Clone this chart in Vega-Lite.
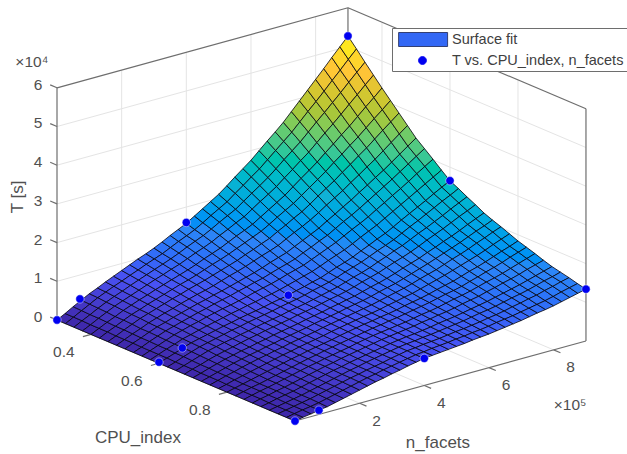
{"$schema":"https://vega.github.io/schema/vega-lite/v6.json","width":627,"height":454,"padding":0,"autosize":"none","background":"white","config":{"view":{"stroke":null},"font":"Liberation Sans"},
"datasets":{
"grid":[{"c":0.3,"n":2,"T":0,"c2":0.3,"n2":2,"T2":6},{"c":0.3,"n":4,"T":0,"c2":0.3,"n2":4,"T2":6},{"c":0.3,"n":6,"T":0,"c2":0.3,"n2":6,"T2":6},{"c":0.3,"n":8,"T":0,"c2":0.3,"n2":8,"T2":6},{"c":0.3,"n":0,"T":1,"c2":0.3,"n2":9,"T2":1},{"c":0.3,"n":0,"T":2,"c2":0.3,"n2":9,"T2":2},{"c":0.3,"n":0,"T":3,"c2":0.3,"n2":9,"T2":3},{"c":0.3,"n":0,"T":4,"c2":0.3,"n2":9,"T2":4},{"c":0.3,"n":0,"T":5,"c2":0.3,"n2":9,"T2":5},{"c":0.4,"n":9,"T":0,"c2":0.4,"n2":9,"T2":6},{"c":0.6,"n":9,"T":0,"c2":0.6,"n2":9,"T2":6},{"c":0.8,"n":9,"T":0,"c2":0.8,"n2":9,"T2":6},{"c":0.3,"n":9,"T":1,"c2":1,"n2":9,"T2":1},{"c":0.3,"n":9,"T":2,"c2":1,"n2":9,"T2":2},{"c":0.3,"n":9,"T":3,"c2":1,"n2":9,"T2":3},{"c":0.3,"n":9,"T":4,"c2":1,"n2":9,"T2":4},{"c":0.3,"n":9,"T":5,"c2":1,"n2":9,"T2":5},{"c":0.3,"n":2,"T":0,"c2":1,"n2":2,"T2":0},{"c":0.3,"n":4,"T":0,"c2":1,"n2":4,"T2":0},{"c":0.3,"n":6,"T":0,"c2":1,"n2":6,"T2":0},{"c":0.3,"n":8,"T":0,"c2":1,"n2":8,"T2":0},{"c":0.4,"n":0,"T":0,"c2":0.4,"n2":9,"T2":0},{"c":0.6,"n":0,"T":0,"c2":0.6,"n2":9,"T2":0},{"c":0.8,"n":0,"T":0,"c2":0.8,"n2":9,"T2":0}],
"box":[{"c":0.3,"n":0,"T":6,"c2":0.3,"n2":9,"T2":6},{"c":0.3,"n":9,"T":6,"c2":1,"n2":9,"T2":6},{"c":0.3,"n":0,"T":0,"c2":0.3,"n2":0,"T2":6},{"c":0.3,"n":9,"T":0,"c2":0.3,"n2":9,"T2":6},{"c":1,"n":9,"T":0,"c2":1,"n2":9,"T2":6},{"c":0.3,"n":0,"T":0,"c2":1,"n2":0,"T2":0},{"c":1,"n":0,"T":0,"c2":1,"n2":9,"T2":0},{"c":0.3,"n":0,"T":0,"c2":0.28,"n2":0,"T2":0},{"c":0.3,"n":0,"T":1,"c2":0.28,"n2":0,"T2":1},{"c":0.3,"n":0,"T":2,"c2":0.28,"n2":0,"T2":2},{"c":0.3,"n":0,"T":3,"c2":0.28,"n2":0,"T2":3},{"c":0.3,"n":0,"T":4,"c2":0.28,"n2":0,"T2":4},{"c":0.3,"n":0,"T":5,"c2":0.28,"n2":0,"T2":5},{"c":0.3,"n":0,"T":6,"c2":0.28,"n2":0,"T2":6},{"c":0.4,"n":0,"T":0,"c2":0.4,"n2":-0.25,"T2":0},{"c":0.6,"n":0,"T":0,"c2":0.6,"n2":-0.25,"T2":0},{"c":0.8,"n":0,"T":0,"c2":0.8,"n2":-0.25,"T2":0},{"c":1,"n":2,"T":0,"c2":1.02,"n2":2,"T2":0},{"c":1,"n":4,"T":0,"c2":1.02,"n2":4,"T2":0},{"c":1,"n":6,"T":0,"c2":1.02,"n2":6,"T2":0},{"c":1,"n":8,"T":0,"c2":1.02,"n2":8,"T2":0}],
"obs":[{"c":0.3,"n":0,"T":0},{"c":0.3,"n":0.71,"T":0.38},{"c":0.3,"n":4,"T":1.6},{"c":0.3,"n":9,"T":5.27},{"c":0.6,"n":9,"T":2.65},{"c":1,"n":9,"T":1.34},{"c":1,"n":4,"T":0.7},{"c":1,"n":0.74,"T":0.11},{"c":1,"n":0,"T":0},{"c":0.6,"n":0,"T":0.03},{"c":0.6,"n":0.72,"T":0.23},{"c":0.6,"n":4,"T":0.84}],
"labels":[{"label":"0","c":0.244,"n":0,"T":0,"dy":5},{"label":"1","c":0.244,"n":0,"T":1,"dy":5},{"label":"2","c":0.244,"n":0,"T":2,"dy":5},{"label":"3","c":0.244,"n":0,"T":3,"dy":5},{"label":"4","c":0.244,"n":0,"T":4,"dy":5},{"label":"5","c":0.244,"n":0,"T":5,"dy":5},{"label":"6","c":0.244,"n":0,"T":6,"dy":5},{"label":"×10⁴","c":0.226,"n":0,"T":6.53,"dy":5},{"label":"0.4","c":0.4,"n":-0.84,"T":-0.26},{"label":"0.6","c":0.6,"n":-0.84,"T":-0.26},{"label":"0.8","c":0.8,"n":-0.84,"T":-0.26},{"label":"2","c":1.05,"n":2,"T":-0.26},{"label":"4","c":1.05,"n":4,"T":-0.26},{"label":"6","c":1.05,"n":6,"T":-0.26},{"label":"8","c":1.05,"n":8,"T":-0.26},{"label":"×10⁵","c":1.209,"n":6.31,"T":-0.26}],
"titles":[{"label":"CPU_index","c":0.848,"n":-3.26,"T":-0.26},{"label":"n_facets","c":1.216,"n":2.15,"T":-0.26}],
"ztitle":[{"label":"T [s]","c":0.185,"n":0,"T":2.75}],
"series":[{"series":"Surface fit"},{"series":"T vs. CPU_index, n_facets"}],
"surface":[
{"c":0.3,"n":0,"T":0},{"c":0.3,"n":0.25,"T":0.11},{"c":0.3,"n":0.5,"T":0.23},{"c":0.3,"n":0.75,"T":0.34},{"c":0.3,"n":1,"T":0.45},{"c":0.3,"n":1.25,"T":0.54},{"c":0.3,"n":1.5,"T":0.64},{"c":0.3,"n":1.75,"T":0.73},{"c":0.3,"n":2,"T":0.82},{"c":0.3,"n":2.25,"T":0.91},{"c":0.3,"n":2.5,"T":1},{"c":0.3,"n":2.75,"T":1.08},{"c":0.3,"n":3,"T":1.17},{"c":0.3,"n":3.25,"T":1.27},{"c":0.3,"n":3.5,"T":1.38},{"c":0.3,"n":3.75,"T":1.48},{"c":0.3,"n":4,"T":1.58},{"c":0.3,"n":4.25,"T":1.71},{"c":0.3,"n":4.5,"T":1.84},{"c":0.3,"n":4.75,"T":1.97},{"c":0.3,"n":5,"T":2.1},{"c":0.3,"n":5.25,"T":2.26},{"c":0.3,"n":5.5,"T":2.43},{"c":0.3,"n":5.75,"T":2.59},{"c":0.3,"n":6,"T":2.75},{"c":0.3,"n":6.25,"T":2.94},{"c":0.3,"n":6.5,"T":3.13},{"c":0.3,"n":6.75,"T":3.31},{"c":0.3,"n":7,"T":3.5},{"c":0.3,"n":7.25,"T":3.72},{"c":0.3,"n":7.5,"T":3.94},{"c":0.3,"n":7.75,"T":4.16},{"c":0.3,"n":8,"T":4.38},{"c":0.3,"n":8.25,"T":4.6},{"c":0.3,"n":8.5,"T":4.83},{"c":0.3,"n":8.75,"T":5.05},{"c":0.3,"n":9,"T":5.27},
{"c":0.325,"n":0,"T":0},{"c":0.325,"n":0.25,"T":0.11},{"c":0.325,"n":0.5,"T":0.22},{"c":0.325,"n":0.75,"T":0.33},{"c":0.325,"n":1,"T":0.44},{"c":0.325,"n":1.25,"T":0.53},{"c":0.325,"n":1.5,"T":0.62},{"c":0.325,"n":1.75,"T":0.7},{"c":0.325,"n":2,"T":0.79},{"c":0.325,"n":2.25,"T":0.87},{"c":0.325,"n":2.5,"T":0.96},{"c":0.325,"n":2.75,"T":1.04},{"c":0.325,"n":3,"T":1.12},{"c":0.325,"n":3.25,"T":1.22},{"c":0.325,"n":3.5,"T":1.32},{"c":0.325,"n":3.75,"T":1.41},{"c":0.325,"n":4,"T":1.51},{"c":0.325,"n":4.25,"T":1.63},{"c":0.325,"n":4.5,"T":1.76},{"c":0.325,"n":4.75,"T":1.88},{"c":0.325,"n":5,"T":2},{"c":0.325,"n":5.25,"T":2.16},{"c":0.325,"n":5.5,"T":2.31},{"c":0.325,"n":5.75,"T":2.47},{"c":0.325,"n":6,"T":2.62},{"c":0.325,"n":6.25,"T":2.8},{"c":0.325,"n":6.5,"T":2.98},{"c":0.325,"n":6.75,"T":3.16},{"c":0.325,"n":7,"T":3.34},{"c":0.325,"n":7.25,"T":3.55},{"c":0.325,"n":7.5,"T":3.76},{"c":0.325,"n":7.75,"T":3.96},{"c":0.325,"n":8,"T":4.17},{"c":0.325,"n":8.25,"T":4.39},{"c":0.325,"n":8.5,"T":4.6},{"c":0.325,"n":8.75,"T":4.82},{"c":0.325,"n":9,"T":5.03},
{"c":0.35,"n":0,"T":0},{"c":0.35,"n":0.25,"T":0.11},{"c":0.35,"n":0.5,"T":0.21},{"c":0.35,"n":0.75,"T":0.32},{"c":0.35,"n":1,"T":0.42},{"c":0.35,"n":1.25,"T":0.51},{"c":0.35,"n":1.5,"T":0.59},{"c":0.35,"n":1.75,"T":0.68},{"c":0.35,"n":2,"T":0.76},{"c":0.35,"n":2.25,"T":0.84},{"c":0.35,"n":2.5,"T":0.92},{"c":0.35,"n":2.75,"T":1},{"c":0.35,"n":3,"T":1.08},{"c":0.35,"n":3.25,"T":1.17},{"c":0.35,"n":3.5,"T":1.27},{"c":0.35,"n":3.75,"T":1.36},{"c":0.35,"n":4,"T":1.45},{"c":0.35,"n":4.25,"T":1.56},{"c":0.35,"n":4.5,"T":1.68},{"c":0.35,"n":4.75,"T":1.79},{"c":0.35,"n":5,"T":1.9},{"c":0.35,"n":5.25,"T":2.05},{"c":0.35,"n":5.5,"T":2.2},{"c":0.35,"n":5.75,"T":2.34},{"c":0.35,"n":6,"T":2.49},{"c":0.35,"n":6.25,"T":2.66},{"c":0.35,"n":6.5,"T":2.84},{"c":0.35,"n":6.75,"T":3.01},{"c":0.35,"n":7,"T":3.18},{"c":0.35,"n":7.25,"T":3.38},{"c":0.35,"n":7.5,"T":3.58},{"c":0.35,"n":7.75,"T":3.77},{"c":0.35,"n":8,"T":3.97},{"c":0.35,"n":8.25,"T":4.17},{"c":0.35,"n":8.5,"T":4.38},{"c":0.35,"n":8.75,"T":4.58},{"c":0.35,"n":9,"T":4.78},
{"c":0.375,"n":0,"T":0},{"c":0.375,"n":0.25,"T":0.1},{"c":0.375,"n":0.5,"T":0.21},{"c":0.375,"n":0.75,"T":0.31},{"c":0.375,"n":1,"T":0.41},{"c":0.375,"n":1.25,"T":0.49},{"c":0.375,"n":1.5,"T":0.57},{"c":0.375,"n":1.75,"T":0.65},{"c":0.375,"n":2,"T":0.73},{"c":0.375,"n":2.25,"T":0.81},{"c":0.375,"n":2.5,"T":0.88},{"c":0.375,"n":2.75,"T":0.96},{"c":0.375,"n":3,"T":1.03},{"c":0.375,"n":3.25,"T":1.12},{"c":0.375,"n":3.5,"T":1.21},{"c":0.375,"n":3.75,"T":1.29},{"c":0.375,"n":4,"T":1.38},{"c":0.375,"n":4.25,"T":1.49},{"c":0.375,"n":4.5,"T":1.59},{"c":0.375,"n":4.75,"T":1.7},{"c":0.375,"n":5,"T":1.8},{"c":0.375,"n":5.25,"T":1.94},{"c":0.375,"n":5.5,"T":2.08},{"c":0.375,"n":5.75,"T":2.21},{"c":0.375,"n":6,"T":2.35},{"c":0.375,"n":6.25,"T":2.52},{"c":0.375,"n":6.5,"T":2.68},{"c":0.375,"n":6.75,"T":2.85},{"c":0.375,"n":7,"T":3.01},{"c":0.375,"n":7.25,"T":3.2},{"c":0.375,"n":7.5,"T":3.39},{"c":0.375,"n":7.75,"T":3.57},{"c":0.375,"n":8,"T":3.76},{"c":0.375,"n":8.25,"T":3.96},{"c":0.375,"n":8.5,"T":4.15},{"c":0.375,"n":8.75,"T":4.35},{"c":0.375,"n":9,"T":4.54},
{"c":0.4,"n":0,"T":0},{"c":0.4,"n":0.25,"T":0.1},{"c":0.4,"n":0.5,"T":0.2},{"c":0.4,"n":0.75,"T":0.29},{"c":0.4,"n":1,"T":0.39},{"c":0.4,"n":1.25,"T":0.47},{"c":0.4,"n":1.5,"T":0.55},{"c":0.4,"n":1.75,"T":0.62},{"c":0.4,"n":2,"T":0.7},{"c":0.4,"n":2.25,"T":0.77},{"c":0.4,"n":2.5,"T":0.84},{"c":0.4,"n":2.75,"T":0.91},{"c":0.4,"n":3,"T":0.98},{"c":0.4,"n":3.25,"T":1.06},{"c":0.4,"n":3.5,"T":1.15},{"c":0.4,"n":3.75,"T":1.23},{"c":0.4,"n":4,"T":1.31},{"c":0.4,"n":4.25,"T":1.41},{"c":0.4,"n":4.5,"T":1.51},{"c":0.4,"n":4.75,"T":1.6},{"c":0.4,"n":5,"T":1.7},{"c":0.4,"n":5.25,"T":1.83},{"c":0.4,"n":5.5,"T":1.96},{"c":0.4,"n":5.75,"T":2.09},{"c":0.4,"n":6,"T":2.22},{"c":0.4,"n":6.25,"T":2.38},{"c":0.4,"n":6.5,"T":2.54},{"c":0.4,"n":6.75,"T":2.69},{"c":0.4,"n":7,"T":2.85},{"c":0.4,"n":7.25,"T":3.03},{"c":0.4,"n":7.5,"T":3.2},{"c":0.4,"n":7.75,"T":3.38},{"c":0.4,"n":8,"T":3.55},{"c":0.4,"n":8.25,"T":3.74},{"c":0.4,"n":8.5,"T":3.93},{"c":0.4,"n":8.75,"T":4.11},{"c":0.4,"n":9,"T":4.3},
{"c":0.425,"n":0,"T":0},{"c":0.425,"n":0.25,"T":0.1},{"c":0.425,"n":0.5,"T":0.19},{"c":0.425,"n":0.75,"T":0.29},{"c":0.425,"n":1,"T":0.38},{"c":0.425,"n":1.25,"T":0.45},{"c":0.425,"n":1.5,"T":0.53},{"c":0.425,"n":1.75,"T":0.6},{"c":0.425,"n":2,"T":0.67},{"c":0.425,"n":2.25,"T":0.74},{"c":0.425,"n":2.5,"T":0.81},{"c":0.425,"n":2.75,"T":0.87},{"c":0.425,"n":3,"T":0.94},{"c":0.425,"n":3.25,"T":1.02},{"c":0.425,"n":3.5,"T":1.1},{"c":0.425,"n":3.75,"T":1.17},{"c":0.425,"n":4,"T":1.25},{"c":0.425,"n":4.25,"T":1.34},{"c":0.425,"n":4.5,"T":1.43},{"c":0.425,"n":4.75,"T":1.52},{"c":0.425,"n":5,"T":1.61},{"c":0.425,"n":5.25,"T":1.73},{"c":0.425,"n":5.5,"T":1.86},{"c":0.425,"n":5.75,"T":1.98},{"c":0.425,"n":6,"T":2.1},{"c":0.425,"n":6.25,"T":2.25},{"c":0.425,"n":6.5,"T":2.4},{"c":0.425,"n":6.75,"T":2.55},{"c":0.425,"n":7,"T":2.7},{"c":0.425,"n":7.25,"T":2.87},{"c":0.425,"n":7.5,"T":3.03},{"c":0.425,"n":7.75,"T":3.2},{"c":0.425,"n":8,"T":3.36},{"c":0.425,"n":8.25,"T":3.54},{"c":0.425,"n":8.5,"T":3.72},{"c":0.425,"n":8.75,"T":3.89},{"c":0.425,"n":9,"T":4.07},
{"c":0.45,"n":0,"T":0},{"c":0.45,"n":0.25,"T":0.09},{"c":0.45,"n":0.5,"T":0.19},{"c":0.45,"n":0.75,"T":0.28},{"c":0.45,"n":1,"T":0.37},{"c":0.45,"n":1.25,"T":0.44},{"c":0.45,"n":1.5,"T":0.51},{"c":0.45,"n":1.75,"T":0.58},{"c":0.45,"n":2,"T":0.65},{"c":0.45,"n":2.25,"T":0.71},{"c":0.45,"n":2.5,"T":0.78},{"c":0.45,"n":2.75,"T":0.84},{"c":0.45,"n":3,"T":0.9},{"c":0.45,"n":3.25,"T":0.97},{"c":0.45,"n":3.5,"T":1.04},{"c":0.45,"n":3.75,"T":1.11},{"c":0.45,"n":4,"T":1.18},{"c":0.45,"n":4.25,"T":1.27},{"c":0.45,"n":4.5,"T":1.35},{"c":0.45,"n":4.75,"T":1.44},{"c":0.45,"n":5,"T":1.52},{"c":0.45,"n":5.25,"T":1.64},{"c":0.45,"n":5.5,"T":1.75},{"c":0.45,"n":5.75,"T":1.87},{"c":0.45,"n":6,"T":1.98},{"c":0.45,"n":6.25,"T":2.12},{"c":0.45,"n":6.5,"T":2.27},{"c":0.45,"n":6.75,"T":2.41},{"c":0.45,"n":7,"T":2.55},{"c":0.45,"n":7.25,"T":2.71},{"c":0.45,"n":7.5,"T":2.86},{"c":0.45,"n":7.75,"T":3.02},{"c":0.45,"n":8,"T":3.17},{"c":0.45,"n":8.25,"T":3.34},{"c":0.45,"n":8.5,"T":3.51},{"c":0.45,"n":8.75,"T":3.67},{"c":0.45,"n":9,"T":3.84},
{"c":0.475,"n":0,"T":0},{"c":0.475,"n":0.25,"T":0.09},{"c":0.475,"n":0.5,"T":0.18},{"c":0.475,"n":0.75,"T":0.26},{"c":0.475,"n":1,"T":0.35},{"c":0.475,"n":1.25,"T":0.42},{"c":0.475,"n":1.5,"T":0.49},{"c":0.475,"n":1.75,"T":0.55},{"c":0.475,"n":2,"T":0.62},{"c":0.475,"n":2.25,"T":0.68},{"c":0.475,"n":2.5,"T":0.74},{"c":0.475,"n":2.75,"T":0.79},{"c":0.475,"n":3,"T":0.85},{"c":0.475,"n":3.25,"T":0.92},{"c":0.475,"n":3.5,"T":0.99},{"c":0.475,"n":3.75,"T":1.05},{"c":0.475,"n":4,"T":1.12},{"c":0.475,"n":4.25,"T":1.2},{"c":0.475,"n":4.5,"T":1.28},{"c":0.475,"n":4.75,"T":1.35},{"c":0.475,"n":5,"T":1.43},{"c":0.475,"n":5.25,"T":1.54},{"c":0.475,"n":5.5,"T":1.65},{"c":0.475,"n":5.75,"T":1.75},{"c":0.475,"n":6,"T":1.86},{"c":0.475,"n":6.25,"T":1.99},{"c":0.475,"n":6.5,"T":2.13},{"c":0.475,"n":6.75,"T":2.26},{"c":0.475,"n":7,"T":2.39},{"c":0.475,"n":7.25,"T":2.54},{"c":0.475,"n":7.5,"T":2.68},{"c":0.475,"n":7.75,"T":2.83},{"c":0.475,"n":8,"T":2.97},{"c":0.475,"n":8.25,"T":3.13},{"c":0.475,"n":8.5,"T":3.29},{"c":0.475,"n":8.75,"T":3.45},{"c":0.475,"n":9,"T":3.61},
{"c":0.5,"n":0,"T":0},{"c":0.5,"n":0.25,"T":0.09},{"c":0.5,"n":0.5,"T":0.17},{"c":0.5,"n":0.75,"T":0.26},{"c":0.5,"n":1,"T":0.34},{"c":0.5,"n":1.25,"T":0.4},{"c":0.5,"n":1.5,"T":0.47},{"c":0.5,"n":1.75,"T":0.53},{"c":0.5,"n":2,"T":0.59},{"c":0.5,"n":2.25,"T":0.65},{"c":0.5,"n":2.5,"T":0.7},{"c":0.5,"n":2.75,"T":0.76},{"c":0.5,"n":3,"T":0.81},{"c":0.5,"n":3.25,"T":0.87},{"c":0.5,"n":3.5,"T":0.93},{"c":0.5,"n":3.75,"T":0.99},{"c":0.5,"n":4,"T":1.05},{"c":0.5,"n":4.25,"T":1.12},{"c":0.5,"n":4.5,"T":1.2},{"c":0.5,"n":4.75,"T":1.27},{"c":0.5,"n":5,"T":1.34},{"c":0.5,"n":5.25,"T":1.44},{"c":0.5,"n":5.5,"T":1.54},{"c":0.5,"n":5.75,"T":1.64},{"c":0.5,"n":6,"T":1.74},{"c":0.5,"n":6.25,"T":1.87},{"c":0.5,"n":6.5,"T":1.99},{"c":0.5,"n":6.75,"T":2.12},{"c":0.5,"n":7,"T":2.24},{"c":0.5,"n":7.25,"T":2.38},{"c":0.5,"n":7.5,"T":2.51},{"c":0.5,"n":7.75,"T":2.65},{"c":0.5,"n":8,"T":2.78},{"c":0.5,"n":8.25,"T":2.93},{"c":0.5,"n":8.5,"T":3.08},{"c":0.5,"n":8.75,"T":3.23},{"c":0.5,"n":9,"T":3.38},
{"c":0.525,"n":0,"T":0},{"c":0.525,"n":0.25,"T":0.08},{"c":0.525,"n":0.5,"T":0.17},{"c":0.525,"n":0.75,"T":0.25},{"c":0.525,"n":1,"T":0.33},{"c":0.525,"n":1.25,"T":0.39},{"c":0.525,"n":1.5,"T":0.45},{"c":0.525,"n":1.75,"T":0.51},{"c":0.525,"n":2,"T":0.57},{"c":0.525,"n":2.25,"T":0.62},{"c":0.525,"n":2.5,"T":0.68},{"c":0.525,"n":2.75,"T":0.73},{"c":0.525,"n":3,"T":0.78},{"c":0.525,"n":3.25,"T":0.84},{"c":0.525,"n":3.5,"T":0.89},{"c":0.525,"n":3.75,"T":0.95},{"c":0.525,"n":4,"T":1},{"c":0.525,"n":4.25,"T":1.07},{"c":0.525,"n":4.5,"T":1.14},{"c":0.525,"n":4.75,"T":1.2},{"c":0.525,"n":5,"T":1.27},{"c":0.525,"n":5.25,"T":1.37},{"c":0.525,"n":5.5,"T":1.46},{"c":0.525,"n":5.75,"T":1.56},{"c":0.525,"n":6,"T":1.65},{"c":0.525,"n":6.25,"T":1.77},{"c":0.525,"n":6.5,"T":1.89},{"c":0.525,"n":6.75,"T":2},{"c":0.525,"n":7,"T":2.12},{"c":0.525,"n":7.25,"T":2.25},{"c":0.525,"n":7.5,"T":2.38},{"c":0.525,"n":7.75,"T":2.51},{"c":0.525,"n":8,"T":2.64},{"c":0.525,"n":8.25,"T":2.78},{"c":0.525,"n":8.5,"T":2.92},{"c":0.525,"n":8.75,"T":3.06},{"c":0.525,"n":9,"T":3.2},
{"c":0.55,"n":0,"T":0},{"c":0.55,"n":0.25,"T":0.08},{"c":0.55,"n":0.5,"T":0.16},{"c":0.55,"n":0.75,"T":0.24},{"c":0.55,"n":1,"T":0.32},{"c":0.55,"n":1.25,"T":0.38},{"c":0.55,"n":1.5,"T":0.44},{"c":0.55,"n":1.75,"T":0.49},{"c":0.55,"n":2,"T":0.55},{"c":0.55,"n":2.25,"T":0.6},{"c":0.55,"n":2.5,"T":0.65},{"c":0.55,"n":2.75,"T":0.69},{"c":0.55,"n":3,"T":0.74},{"c":0.55,"n":3.25,"T":0.79},{"c":0.55,"n":3.5,"T":0.85},{"c":0.55,"n":3.75,"T":0.9},{"c":0.55,"n":4,"T":0.95},{"c":0.55,"n":4.25,"T":1.01},{"c":0.55,"n":4.5,"T":1.08},{"c":0.55,"n":4.75,"T":1.14},{"c":0.55,"n":5,"T":1.2},{"c":0.55,"n":5.25,"T":1.29},{"c":0.55,"n":5.5,"T":1.38},{"c":0.55,"n":5.75,"T":1.47},{"c":0.55,"n":6,"T":1.56},{"c":0.55,"n":6.25,"T":1.67},{"c":0.55,"n":6.5,"T":1.78},{"c":0.55,"n":6.75,"T":1.88},{"c":0.55,"n":7,"T":1.99},{"c":0.55,"n":7.25,"T":2.12},{"c":0.55,"n":7.5,"T":2.24},{"c":0.55,"n":7.75,"T":2.37},{"c":0.55,"n":8,"T":2.49},{"c":0.55,"n":8.25,"T":2.62},{"c":0.55,"n":8.5,"T":2.76},{"c":0.55,"n":8.75,"T":2.89},{"c":0.55,"n":9,"T":3.02},
{"c":0.575,"n":0,"T":0},{"c":0.575,"n":0.25,"T":0.08},{"c":0.575,"n":0.5,"T":0.16},{"c":0.575,"n":0.75,"T":0.23},{"c":0.575,"n":1,"T":0.31},{"c":0.575,"n":1.25,"T":0.36},{"c":0.575,"n":1.5,"T":0.42},{"c":0.575,"n":1.75,"T":0.47},{"c":0.575,"n":2,"T":0.52},{"c":0.575,"n":2.25,"T":0.57},{"c":0.575,"n":2.5,"T":0.62},{"c":0.575,"n":2.75,"T":0.66},{"c":0.575,"n":3,"T":0.71},{"c":0.575,"n":3.25,"T":0.75},{"c":0.575,"n":3.5,"T":0.8},{"c":0.575,"n":3.75,"T":0.84},{"c":0.575,"n":4,"T":0.89},{"c":0.575,"n":4.25,"T":0.95},{"c":0.575,"n":4.5,"T":1.01},{"c":0.575,"n":4.75,"T":1.07},{"c":0.575,"n":5,"T":1.13},{"c":0.575,"n":5.25,"T":1.21},{"c":0.575,"n":5.5,"T":1.3},{"c":0.575,"n":5.75,"T":1.38},{"c":0.575,"n":6,"T":1.46},{"c":0.575,"n":6.25,"T":1.56},{"c":0.575,"n":6.5,"T":1.67},{"c":0.575,"n":6.75,"T":1.77},{"c":0.575,"n":7,"T":1.87},{"c":0.575,"n":7.25,"T":1.99},{"c":0.575,"n":7.5,"T":2.11},{"c":0.575,"n":7.75,"T":2.23},{"c":0.575,"n":8,"T":2.35},{"c":0.575,"n":8.25,"T":2.47},{"c":0.575,"n":8.5,"T":2.59},{"c":0.575,"n":8.75,"T":2.71},{"c":0.575,"n":9,"T":2.83},
{"c":0.6,"n":0,"T":0},{"c":0.6,"n":0.25,"T":0.08},{"c":0.6,"n":0.5,"T":0.15},{"c":0.6,"n":0.75,"T":0.23},{"c":0.6,"n":1,"T":0.3},{"c":0.6,"n":1.25,"T":0.35},{"c":0.6,"n":1.5,"T":0.4},{"c":0.6,"n":1.75,"T":0.45},{"c":0.6,"n":2,"T":0.5},{"c":0.6,"n":2.25,"T":0.54},{"c":0.6,"n":2.5,"T":0.59},{"c":0.6,"n":2.75,"T":0.63},{"c":0.6,"n":3,"T":0.67},{"c":0.6,"n":3.25,"T":0.71},{"c":0.6,"n":3.5,"T":0.76},{"c":0.6,"n":3.75,"T":0.8},{"c":0.6,"n":4,"T":0.84},{"c":0.6,"n":4.25,"T":0.9},{"c":0.6,"n":4.5,"T":0.95},{"c":0.6,"n":4.75,"T":1.01},{"c":0.6,"n":5,"T":1.06},{"c":0.6,"n":5.25,"T":1.14},{"c":0.6,"n":5.5,"T":1.22},{"c":0.6,"n":5.75,"T":1.29},{"c":0.6,"n":6,"T":1.37},{"c":0.6,"n":6.25,"T":1.47},{"c":0.6,"n":6.5,"T":1.56},{"c":0.6,"n":6.75,"T":1.66},{"c":0.6,"n":7,"T":1.75},{"c":0.6,"n":7.25,"T":1.86},{"c":0.6,"n":7.5,"T":1.98},{"c":0.6,"n":7.75,"T":2.09},{"c":0.6,"n":8,"T":2.2},{"c":0.6,"n":8.25,"T":2.31},{"c":0.6,"n":8.5,"T":2.43},{"c":0.6,"n":8.75,"T":2.54},{"c":0.6,"n":9,"T":2.65},
{"c":0.625,"n":0,"T":0},{"c":0.625,"n":0.25,"T":0.07},{"c":0.625,"n":0.5,"T":0.15},{"c":0.625,"n":0.75,"T":0.22},{"c":0.625,"n":1,"T":0.29},{"c":0.625,"n":1.25,"T":0.34},{"c":0.625,"n":1.5,"T":0.39},{"c":0.625,"n":1.75,"T":0.44},{"c":0.625,"n":2,"T":0.49},{"c":0.625,"n":2.25,"T":0.53},{"c":0.625,"n":2.5,"T":0.58},{"c":0.625,"n":2.75,"T":0.62},{"c":0.625,"n":3,"T":0.66},{"c":0.625,"n":3.25,"T":0.7},{"c":0.625,"n":3.5,"T":0.75},{"c":0.625,"n":3.75,"T":0.79},{"c":0.625,"n":4,"T":0.83},{"c":0.625,"n":4.25,"T":0.88},{"c":0.625,"n":4.5,"T":0.94},{"c":0.625,"n":4.75,"T":0.99},{"c":0.625,"n":5,"T":1.04},{"c":0.625,"n":5.25,"T":1.11},{"c":0.625,"n":5.5,"T":1.19},{"c":0.625,"n":5.75,"T":1.26},{"c":0.625,"n":6,"T":1.33},{"c":0.625,"n":6.25,"T":1.42},{"c":0.625,"n":6.5,"T":1.51},{"c":0.625,"n":6.75,"T":1.59},{"c":0.625,"n":7,"T":1.68},{"c":0.625,"n":7.25,"T":1.79},{"c":0.625,"n":7.5,"T":1.9},{"c":0.625,"n":7.75,"T":2},{"c":0.625,"n":8,"T":2.11},{"c":0.625,"n":8.25,"T":2.22},{"c":0.625,"n":8.5,"T":2.33},{"c":0.625,"n":8.75,"T":2.43},{"c":0.625,"n":9,"T":2.54},
{"c":0.65,"n":0,"T":0},{"c":0.65,"n":0.25,"T":0.07},{"c":0.65,"n":0.5,"T":0.14},{"c":0.65,"n":0.75,"T":0.21},{"c":0.65,"n":1,"T":0.28},{"c":0.65,"n":1.25,"T":0.33},{"c":0.65,"n":1.5,"T":0.38},{"c":0.65,"n":1.75,"T":0.42},{"c":0.65,"n":2,"T":0.47},{"c":0.65,"n":2.25,"T":0.51},{"c":0.65,"n":2.5,"T":0.56},{"c":0.65,"n":2.75,"T":0.6},{"c":0.65,"n":3,"T":0.64},{"c":0.65,"n":3.25,"T":0.68},{"c":0.65,"n":3.5,"T":0.73},{"c":0.65,"n":3.75,"T":0.77},{"c":0.65,"n":4,"T":0.81},{"c":0.65,"n":4.25,"T":0.86},{"c":0.65,"n":4.5,"T":0.91},{"c":0.65,"n":4.75,"T":0.96},{"c":0.65,"n":5,"T":1.01},{"c":0.65,"n":5.25,"T":1.08},{"c":0.65,"n":5.5,"T":1.15},{"c":0.65,"n":5.75,"T":1.21},{"c":0.65,"n":6,"T":1.28},{"c":0.65,"n":6.25,"T":1.37},{"c":0.65,"n":6.5,"T":1.45},{"c":0.65,"n":6.75,"T":1.54},{"c":0.65,"n":7,"T":1.62},{"c":0.65,"n":7.25,"T":1.72},{"c":0.65,"n":7.5,"T":1.82},{"c":0.65,"n":7.75,"T":1.91},{"c":0.65,"n":8,"T":2.01},{"c":0.65,"n":8.25,"T":2.11},{"c":0.65,"n":8.5,"T":2.22},{"c":0.65,"n":8.75,"T":2.32},{"c":0.65,"n":9,"T":2.42},
{"c":0.675,"n":0,"T":0},{"c":0.675,"n":0.25,"T":0.07},{"c":0.675,"n":0.5,"T":0.13},{"c":0.675,"n":0.75,"T":0.2},{"c":0.675,"n":1,"T":0.26},{"c":0.675,"n":1.25,"T":0.31},{"c":0.675,"n":1.5,"T":0.36},{"c":0.675,"n":1.75,"T":0.41},{"c":0.675,"n":2,"T":0.46},{"c":0.675,"n":2.25,"T":0.5},{"c":0.675,"n":2.5,"T":0.55},{"c":0.675,"n":2.75,"T":0.59},{"c":0.675,"n":3,"T":0.63},{"c":0.675,"n":3.25,"T":0.67},{"c":0.675,"n":3.5,"T":0.72},{"c":0.675,"n":3.75,"T":0.76},{"c":0.675,"n":4,"T":0.8},{"c":0.675,"n":4.25,"T":0.85},{"c":0.675,"n":4.5,"T":0.9},{"c":0.675,"n":4.75,"T":0.94},{"c":0.675,"n":5,"T":0.99},{"c":0.675,"n":5.25,"T":1.05},{"c":0.675,"n":5.5,"T":1.12},{"c":0.675,"n":5.75,"T":1.18},{"c":0.675,"n":6,"T":1.24},{"c":0.675,"n":6.25,"T":1.32},{"c":0.675,"n":6.5,"T":1.4},{"c":0.675,"n":6.75,"T":1.47},{"c":0.675,"n":7,"T":1.55},{"c":0.675,"n":7.25,"T":1.64},{"c":0.675,"n":7.5,"T":1.74},{"c":0.675,"n":7.75,"T":1.83},{"c":0.675,"n":8,"T":1.92},{"c":0.675,"n":8.25,"T":2.02},{"c":0.675,"n":8.5,"T":2.12},{"c":0.675,"n":8.75,"T":2.21},{"c":0.675,"n":9,"T":2.31},
{"c":0.7,"n":0,"T":0},{"c":0.7,"n":0.25,"T":0.06},{"c":0.7,"n":0.5,"T":0.13},{"c":0.7,"n":0.75,"T":0.19},{"c":0.7,"n":1,"T":0.25},{"c":0.7,"n":1.25,"T":0.3},{"c":0.7,"n":1.5,"T":0.35},{"c":0.7,"n":1.75,"T":0.39},{"c":0.7,"n":2,"T":0.44},{"c":0.7,"n":2.25,"T":0.48},{"c":0.7,"n":2.5,"T":0.53},{"c":0.7,"n":2.75,"T":0.57},{"c":0.7,"n":3,"T":0.61},{"c":0.7,"n":3.25,"T":0.65},{"c":0.7,"n":3.5,"T":0.7},{"c":0.7,"n":3.75,"T":0.74},{"c":0.7,"n":4,"T":0.78},{"c":0.7,"n":4.25,"T":0.83},{"c":0.7,"n":4.5,"T":0.87},{"c":0.7,"n":4.75,"T":0.92},{"c":0.7,"n":5,"T":0.96},{"c":0.7,"n":5.25,"T":1.02},{"c":0.7,"n":5.5,"T":1.08},{"c":0.7,"n":5.75,"T":1.13},{"c":0.7,"n":6,"T":1.19},{"c":0.7,"n":6.25,"T":1.26},{"c":0.7,"n":6.5,"T":1.34},{"c":0.7,"n":6.75,"T":1.41},{"c":0.7,"n":7,"T":1.48},{"c":0.7,"n":7.25,"T":1.57},{"c":0.7,"n":7.5,"T":1.65},{"c":0.7,"n":7.75,"T":1.74},{"c":0.7,"n":8,"T":1.82},{"c":0.7,"n":8.25,"T":1.91},{"c":0.7,"n":8.5,"T":2.01},{"c":0.7,"n":8.75,"T":2.1},{"c":0.7,"n":9,"T":2.19},
{"c":0.725,"n":0,"T":0},{"c":0.725,"n":0.25,"T":0.06},{"c":0.725,"n":0.5,"T":0.12},{"c":0.725,"n":0.75,"T":0.18},{"c":0.725,"n":1,"T":0.24},{"c":0.725,"n":1.25,"T":0.29},{"c":0.725,"n":1.5,"T":0.34},{"c":0.725,"n":1.75,"T":0.38},{"c":0.725,"n":2,"T":0.43},{"c":0.725,"n":2.25,"T":0.47},{"c":0.725,"n":2.5,"T":0.52},{"c":0.725,"n":2.75,"T":0.56},{"c":0.725,"n":3,"T":0.6},{"c":0.725,"n":3.25,"T":0.64},{"c":0.725,"n":3.5,"T":0.69},{"c":0.725,"n":3.75,"T":0.73},{"c":0.725,"n":4,"T":0.77},{"c":0.725,"n":4.25,"T":0.81},{"c":0.725,"n":4.5,"T":0.86},{"c":0.725,"n":4.75,"T":0.9},{"c":0.725,"n":5,"T":0.94},{"c":0.725,"n":5.25,"T":0.99},{"c":0.725,"n":5.5,"T":1.05},{"c":0.725,"n":5.75,"T":1.1},{"c":0.725,"n":6,"T":1.15},{"c":0.725,"n":6.25,"T":1.22},{"c":0.725,"n":6.5,"T":1.29},{"c":0.725,"n":6.75,"T":1.36},{"c":0.725,"n":7,"T":1.43},{"c":0.725,"n":7.25,"T":1.51},{"c":0.725,"n":7.5,"T":1.59},{"c":0.725,"n":7.75,"T":1.67},{"c":0.725,"n":8,"T":1.75},{"c":0.725,"n":8.25,"T":1.84},{"c":0.725,"n":8.5,"T":1.93},{"c":0.725,"n":8.75,"T":2.01},{"c":0.725,"n":9,"T":2.1},
{"c":0.75,"n":0,"T":0},{"c":0.75,"n":0.25,"T":0.06},{"c":0.75,"n":0.5,"T":0.12},{"c":0.75,"n":0.75,"T":0.17},{"c":0.75,"n":1,"T":0.23},{"c":0.75,"n":1.25,"T":0.28},{"c":0.75,"n":1.5,"T":0.33},{"c":0.75,"n":1.75,"T":0.37},{"c":0.75,"n":2,"T":0.42},{"c":0.75,"n":2.25,"T":0.46},{"c":0.75,"n":2.5,"T":0.51},{"c":0.75,"n":2.75,"T":0.55},{"c":0.75,"n":3,"T":0.59},{"c":0.75,"n":3.25,"T":0.63},{"c":0.75,"n":3.5,"T":0.68},{"c":0.75,"n":3.75,"T":0.72},{"c":0.75,"n":4,"T":0.76},{"c":0.75,"n":4.25,"T":0.8},{"c":0.75,"n":4.5,"T":0.84},{"c":0.75,"n":4.75,"T":0.88},{"c":0.75,"n":5,"T":0.92},{"c":0.75,"n":5.25,"T":0.97},{"c":0.75,"n":5.5,"T":1.02},{"c":0.75,"n":5.75,"T":1.07},{"c":0.75,"n":6,"T":1.12},{"c":0.75,"n":6.25,"T":1.18},{"c":0.75,"n":6.5,"T":1.25},{"c":0.75,"n":6.75,"T":1.31},{"c":0.75,"n":7,"T":1.37},{"c":0.75,"n":7.25,"T":1.45},{"c":0.75,"n":7.5,"T":1.53},{"c":0.75,"n":7.75,"T":1.6},{"c":0.75,"n":8,"T":1.68},{"c":0.75,"n":8.25,"T":1.77},{"c":0.75,"n":8.5,"T":1.85},{"c":0.75,"n":8.75,"T":1.94},{"c":0.75,"n":9,"T":2.02},
{"c":0.775,"n":0,"T":0},{"c":0.775,"n":0.25,"T":0.05},{"c":0.775,"n":0.5,"T":0.11},{"c":0.775,"n":0.75,"T":0.16},{"c":0.775,"n":1,"T":0.21},{"c":0.775,"n":1.25,"T":0.26},{"c":0.775,"n":1.5,"T":0.31},{"c":0.775,"n":1.75,"T":0.36},{"c":0.775,"n":2,"T":0.41},{"c":0.775,"n":2.25,"T":0.45},{"c":0.775,"n":2.5,"T":0.5},{"c":0.775,"n":2.75,"T":0.54},{"c":0.775,"n":3,"T":0.58},{"c":0.775,"n":3.25,"T":0.62},{"c":0.775,"n":3.5,"T":0.67},{"c":0.775,"n":3.75,"T":0.71},{"c":0.775,"n":4,"T":0.75},{"c":0.775,"n":4.25,"T":0.79},{"c":0.775,"n":4.5,"T":0.83},{"c":0.775,"n":4.75,"T":0.86},{"c":0.775,"n":5,"T":0.9},{"c":0.775,"n":5.25,"T":0.95},{"c":0.775,"n":5.5,"T":0.99},{"c":0.775,"n":5.75,"T":1.04},{"c":0.775,"n":6,"T":1.08},{"c":0.775,"n":6.25,"T":1.14},{"c":0.775,"n":6.5,"T":1.2},{"c":0.775,"n":6.75,"T":1.26},{"c":0.775,"n":7,"T":1.32},{"c":0.775,"n":7.25,"T":1.39},{"c":0.775,"n":7.5,"T":1.46},{"c":0.775,"n":7.75,"T":1.53},{"c":0.775,"n":8,"T":1.6},{"c":0.775,"n":8.25,"T":1.68},{"c":0.775,"n":8.5,"T":1.77},{"c":0.775,"n":8.75,"T":1.85},{"c":0.775,"n":9,"T":1.93},
{"c":0.8,"n":0,"T":0},{"c":0.8,"n":0.25,"T":0.05},{"c":0.8,"n":0.5,"T":0.1},{"c":0.8,"n":0.75,"T":0.15},{"c":0.8,"n":1,"T":0.2},{"c":0.8,"n":1.25,"T":0.25},{"c":0.8,"n":1.5,"T":0.3},{"c":0.8,"n":1.75,"T":0.35},{"c":0.8,"n":2,"T":0.4},{"c":0.8,"n":2.25,"T":0.44},{"c":0.8,"n":2.5,"T":0.49},{"c":0.8,"n":2.75,"T":0.53},{"c":0.8,"n":3,"T":0.57},{"c":0.8,"n":3.25,"T":0.61},{"c":0.8,"n":3.5,"T":0.66},{"c":0.8,"n":3.75,"T":0.7},{"c":0.8,"n":4,"T":0.74},{"c":0.8,"n":4.25,"T":0.78},{"c":0.8,"n":4.5,"T":0.81},{"c":0.8,"n":4.75,"T":0.85},{"c":0.8,"n":5,"T":0.88},{"c":0.8,"n":5.25,"T":0.92},{"c":0.8,"n":5.5,"T":0.97},{"c":0.8,"n":5.75,"T":1.01},{"c":0.8,"n":6,"T":1.05},{"c":0.8,"n":6.25,"T":1.1},{"c":0.8,"n":6.5,"T":1.16},{"c":0.8,"n":6.75,"T":1.21},{"c":0.8,"n":7,"T":1.26},{"c":0.8,"n":7.25,"T":1.33},{"c":0.8,"n":7.5,"T":1.4},{"c":0.8,"n":7.75,"T":1.46},{"c":0.8,"n":8,"T":1.53},{"c":0.8,"n":8.25,"T":1.61},{"c":0.8,"n":8.5,"T":1.69},{"c":0.8,"n":8.75,"T":1.76},{"c":0.8,"n":9,"T":1.84},
{"c":0.825,"n":0,"T":0},{"c":0.825,"n":0.25,"T":0.05},{"c":0.825,"n":0.5,"T":0.1},{"c":0.825,"n":0.75,"T":0.14},{"c":0.825,"n":1,"T":0.19},{"c":0.825,"n":1.25,"T":0.24},{"c":0.825,"n":1.5,"T":0.29},{"c":0.825,"n":1.75,"T":0.34},{"c":0.825,"n":2,"T":0.39},{"c":0.825,"n":2.25,"T":0.44},{"c":0.825,"n":2.5,"T":0.48},{"c":0.825,"n":2.75,"T":0.53},{"c":0.825,"n":3,"T":0.57},{"c":0.825,"n":3.25,"T":0.61},{"c":0.825,"n":3.5,"T":0.65},{"c":0.825,"n":3.75,"T":0.69},{"c":0.825,"n":4,"T":0.73},{"c":0.825,"n":4.25,"T":0.77},{"c":0.825,"n":4.5,"T":0.8},{"c":0.825,"n":4.75,"T":0.84},{"c":0.825,"n":5,"T":0.87},{"c":0.825,"n":5.25,"T":0.91},{"c":0.825,"n":5.5,"T":0.95},{"c":0.825,"n":5.75,"T":0.99},{"c":0.825,"n":6,"T":1.03},{"c":0.825,"n":6.25,"T":1.08},{"c":0.825,"n":6.5,"T":1.13},{"c":0.825,"n":6.75,"T":1.17},{"c":0.825,"n":7,"T":1.22},{"c":0.825,"n":7.25,"T":1.29},{"c":0.825,"n":7.5,"T":1.35},{"c":0.825,"n":7.75,"T":1.42},{"c":0.825,"n":8,"T":1.48},{"c":0.825,"n":8.25,"T":1.55},{"c":0.825,"n":8.5,"T":1.63},{"c":0.825,"n":8.75,"T":1.7},{"c":0.825,"n":9,"T":1.77},
{"c":0.85,"n":0,"T":0},{"c":0.85,"n":0.25,"T":0.05},{"c":0.85,"n":0.5,"T":0.1},{"c":0.85,"n":0.75,"T":0.14},{"c":0.85,"n":1,"T":0.19},{"c":0.85,"n":1.25,"T":0.24},{"c":0.85,"n":1.5,"T":0.29},{"c":0.85,"n":1.75,"T":0.34},{"c":0.85,"n":2,"T":0.39},{"c":0.85,"n":2.25,"T":0.43},{"c":0.85,"n":2.5,"T":0.48},{"c":0.85,"n":2.75,"T":0.52},{"c":0.85,"n":3,"T":0.56},{"c":0.85,"n":3.25,"T":0.6},{"c":0.85,"n":3.5,"T":0.65},{"c":0.85,"n":3.75,"T":0.69},{"c":0.85,"n":4,"T":0.73},{"c":0.85,"n":4.25,"T":0.76},{"c":0.85,"n":4.5,"T":0.79},{"c":0.85,"n":4.75,"T":0.82},{"c":0.85,"n":5,"T":0.85},{"c":0.85,"n":5.25,"T":0.89},{"c":0.85,"n":5.5,"T":0.93},{"c":0.85,"n":5.75,"T":0.96},{"c":0.85,"n":6,"T":1},{"c":0.85,"n":6.25,"T":1.05},{"c":0.85,"n":6.5,"T":1.1},{"c":0.85,"n":6.75,"T":1.14},{"c":0.85,"n":7,"T":1.19},{"c":0.85,"n":7.25,"T":1.25},{"c":0.85,"n":7.5,"T":1.31},{"c":0.85,"n":7.75,"T":1.36},{"c":0.85,"n":8,"T":1.42},{"c":0.85,"n":8.25,"T":1.49},{"c":0.85,"n":8.5,"T":1.56},{"c":0.85,"n":8.75,"T":1.63},{"c":0.85,"n":9,"T":1.7},
{"c":0.875,"n":0,"T":0},{"c":0.875,"n":0.25,"T":0.05},{"c":0.875,"n":0.5,"T":0.09},{"c":0.875,"n":0.75,"T":0.14},{"c":0.875,"n":1,"T":0.18},{"c":0.875,"n":1.25,"T":0.23},{"c":0.875,"n":1.5,"T":0.28},{"c":0.875,"n":1.75,"T":0.33},{"c":0.875,"n":2,"T":0.38},{"c":0.875,"n":2.25,"T":0.43},{"c":0.875,"n":2.5,"T":0.47},{"c":0.875,"n":2.75,"T":0.52},{"c":0.875,"n":3,"T":0.56},{"c":0.875,"n":3.25,"T":0.6},{"c":0.875,"n":3.5,"T":0.64},{"c":0.875,"n":3.75,"T":0.68},{"c":0.875,"n":4,"T":0.72},{"c":0.875,"n":4.25,"T":0.75},{"c":0.875,"n":4.5,"T":0.78},{"c":0.875,"n":4.75,"T":0.81},{"c":0.875,"n":5,"T":0.84},{"c":0.875,"n":5.25,"T":0.88},{"c":0.875,"n":5.5,"T":0.91},{"c":0.875,"n":5.75,"T":0.95},{"c":0.875,"n":6,"T":0.98},{"c":0.875,"n":6.25,"T":1.02},{"c":0.875,"n":6.5,"T":1.07},{"c":0.875,"n":6.75,"T":1.11},{"c":0.875,"n":7,"T":1.15},{"c":0.875,"n":7.25,"T":1.21},{"c":0.875,"n":7.5,"T":1.26},{"c":0.875,"n":7.75,"T":1.32},{"c":0.875,"n":8,"T":1.37},{"c":0.875,"n":8.25,"T":1.43},{"c":0.875,"n":8.5,"T":1.5},{"c":0.875,"n":8.75,"T":1.56},{"c":0.875,"n":9,"T":1.62},
{"c":0.9,"n":0,"T":0},{"c":0.9,"n":0.25,"T":0.04},{"c":0.9,"n":0.5,"T":0.09},{"c":0.9,"n":0.75,"T":0.13},{"c":0.9,"n":1,"T":0.17},{"c":0.9,"n":1.25,"T":0.22},{"c":0.9,"n":1.5,"T":0.27},{"c":0.9,"n":1.75,"T":0.32},{"c":0.9,"n":2,"T":0.37},{"c":0.9,"n":2.25,"T":0.42},{"c":0.9,"n":2.5,"T":0.46},{"c":0.9,"n":2.75,"T":0.51},{"c":0.9,"n":3,"T":0.55},{"c":0.9,"n":3.25,"T":0.59},{"c":0.9,"n":3.5,"T":0.63},{"c":0.9,"n":3.75,"T":0.67},{"c":0.9,"n":4,"T":0.71},{"c":0.9,"n":4.25,"T":0.74},{"c":0.9,"n":4.5,"T":0.77},{"c":0.9,"n":4.75,"T":0.79},{"c":0.9,"n":5,"T":0.82},{"c":0.9,"n":5.25,"T":0.85},{"c":0.9,"n":5.5,"T":0.89},{"c":0.9,"n":5.75,"T":0.92},{"c":0.9,"n":6,"T":0.95},{"c":0.9,"n":6.25,"T":0.99},{"c":0.9,"n":6.5,"T":1.03},{"c":0.9,"n":6.75,"T":1.07},{"c":0.9,"n":7,"T":1.11},{"c":0.9,"n":7.25,"T":1.16},{"c":0.9,"n":7.5,"T":1.21},{"c":0.9,"n":7.75,"T":1.26},{"c":0.9,"n":8,"T":1.31},{"c":0.9,"n":8.25,"T":1.37},{"c":0.9,"n":8.5,"T":1.43},{"c":0.9,"n":8.75,"T":1.49},{"c":0.9,"n":9,"T":1.55},
{"c":0.925,"n":0,"T":0},{"c":0.925,"n":0.25,"T":0.04},{"c":0.925,"n":0.5,"T":0.08},{"c":0.925,"n":0.75,"T":0.12},{"c":0.925,"n":1,"T":0.16},{"c":0.925,"n":1.25,"T":0.21},{"c":0.925,"n":1.5,"T":0.26},{"c":0.925,"n":1.75,"T":0.31},{"c":0.925,"n":2,"T":0.36},{"c":0.925,"n":2.25,"T":0.41},{"c":0.925,"n":2.5,"T":0.46},{"c":0.925,"n":2.75,"T":0.5},{"c":0.925,"n":3,"T":0.55},{"c":0.925,"n":3.25,"T":0.59},{"c":0.925,"n":3.5,"T":0.63},{"c":0.925,"n":3.75,"T":0.67},{"c":0.925,"n":4,"T":0.71},{"c":0.925,"n":4.25,"T":0.74},{"c":0.925,"n":4.5,"T":0.76},{"c":0.925,"n":4.75,"T":0.79},{"c":0.925,"n":5,"T":0.81},{"c":0.925,"n":5.25,"T":0.84},{"c":0.925,"n":5.5,"T":0.87},{"c":0.925,"n":5.75,"T":0.9},{"c":0.925,"n":6,"T":0.93},{"c":0.925,"n":6.25,"T":0.97},{"c":0.925,"n":6.5,"T":1.01},{"c":0.925,"n":6.75,"T":1.04},{"c":0.925,"n":7,"T":1.08},{"c":0.925,"n":7.25,"T":1.13},{"c":0.925,"n":7.5,"T":1.18},{"c":0.925,"n":7.75,"T":1.22},{"c":0.925,"n":8,"T":1.27},{"c":0.925,"n":8.25,"T":1.33},{"c":0.925,"n":8.5,"T":1.39},{"c":0.925,"n":8.75,"T":1.44},{"c":0.925,"n":9,"T":1.5},
{"c":0.95,"n":0,"T":0},{"c":0.95,"n":0.25,"T":0.04},{"c":0.95,"n":0.5,"T":0.08},{"c":0.95,"n":0.75,"T":0.12},{"c":0.95,"n":1,"T":0.16},{"c":0.95,"n":1.25,"T":0.21},{"c":0.95,"n":1.5,"T":0.26},{"c":0.95,"n":1.75,"T":0.31},{"c":0.95,"n":2,"T":0.36},{"c":0.95,"n":2.25,"T":0.41},{"c":0.95,"n":2.5,"T":0.45},{"c":0.95,"n":2.75,"T":0.5},{"c":0.95,"n":3,"T":0.54},{"c":0.95,"n":3.25,"T":0.58},{"c":0.95,"n":3.5,"T":0.63},{"c":0.95,"n":3.75,"T":0.67},{"c":0.95,"n":4,"T":0.71},{"c":0.95,"n":4.25,"T":0.73},{"c":0.95,"n":4.5,"T":0.76},{"c":0.95,"n":4.75,"T":0.78},{"c":0.95,"n":5,"T":0.8},{"c":0.95,"n":5.25,"T":0.83},{"c":0.95,"n":5.5,"T":0.86},{"c":0.95,"n":5.75,"T":0.88},{"c":0.95,"n":6,"T":0.91},{"c":0.95,"n":6.25,"T":0.94},{"c":0.95,"n":6.5,"T":0.98},{"c":0.95,"n":6.75,"T":1.01},{"c":0.95,"n":7,"T":1.05},{"c":0.95,"n":7.25,"T":1.1},{"c":0.95,"n":7.5,"T":1.14},{"c":0.95,"n":7.75,"T":1.19},{"c":0.95,"n":8,"T":1.23},{"c":0.95,"n":8.25,"T":1.29},{"c":0.95,"n":8.5,"T":1.34},{"c":0.95,"n":8.75,"T":1.4},{"c":0.95,"n":9,"T":1.45},
{"c":0.975,"n":0,"T":0},{"c":0.975,"n":0.25,"T":0.04},{"c":0.975,"n":0.5,"T":0.08},{"c":0.975,"n":0.75,"T":0.11},{"c":0.975,"n":1,"T":0.15},{"c":0.975,"n":1.25,"T":0.2},{"c":0.975,"n":1.5,"T":0.25},{"c":0.975,"n":1.75,"T":0.3},{"c":0.975,"n":2,"T":0.35},{"c":0.975,"n":2.25,"T":0.4},{"c":0.975,"n":2.5,"T":0.45},{"c":0.975,"n":2.75,"T":0.49},{"c":0.975,"n":3,"T":0.54},{"c":0.975,"n":3.25,"T":0.58},{"c":0.975,"n":3.5,"T":0.62},{"c":0.975,"n":3.75,"T":0.66},{"c":0.975,"n":4,"T":0.7},{"c":0.975,"n":4.25,"T":0.72},{"c":0.975,"n":4.5,"T":0.75},{"c":0.975,"n":4.75,"T":0.77},{"c":0.975,"n":5,"T":0.79},{"c":0.975,"n":5.25,"T":0.82},{"c":0.975,"n":5.5,"T":0.84},{"c":0.975,"n":5.75,"T":0.87},{"c":0.975,"n":6,"T":0.89},{"c":0.975,"n":6.25,"T":0.92},{"c":0.975,"n":6.5,"T":0.96},{"c":0.975,"n":6.75,"T":0.99},{"c":0.975,"n":7,"T":1.02},{"c":0.975,"n":7.25,"T":1.06},{"c":0.975,"n":7.5,"T":1.1},{"c":0.975,"n":7.75,"T":1.14},{"c":0.975,"n":8,"T":1.18},{"c":0.975,"n":8.25,"T":1.23},{"c":0.975,"n":8.5,"T":1.29},{"c":0.975,"n":8.75,"T":1.34},{"c":0.975,"n":9,"T":1.39},
{"c":1,"n":0,"T":0},{"c":1,"n":0.25,"T":0.04},{"c":1,"n":0.5,"T":0.07},{"c":1,"n":0.75,"T":0.11},{"c":1,"n":1,"T":0.14},{"c":1,"n":1.25,"T":0.19},{"c":1,"n":1.5,"T":0.24},{"c":1,"n":1.75,"T":0.29},{"c":1,"n":2,"T":0.34},{"c":1,"n":2.25,"T":0.39},{"c":1,"n":2.5,"T":0.44},{"c":1,"n":2.75,"T":0.48},{"c":1,"n":3,"T":0.53},{"c":1,"n":3.25,"T":0.57},{"c":1,"n":3.5,"T":0.62},{"c":1,"n":3.75,"T":0.66},{"c":1,"n":4,"T":0.7},{"c":1,"n":4.25,"T":0.72},{"c":1,"n":4.5,"T":0.74},{"c":1,"n":4.75,"T":0.76},{"c":1,"n":5,"T":0.78},{"c":1,"n":5.25,"T":0.8},{"c":1,"n":5.5,"T":0.83},{"c":1,"n":5.75,"T":0.85},{"c":1,"n":6,"T":0.87},{"c":1,"n":6.25,"T":0.9},{"c":1,"n":6.5,"T":0.93},{"c":1,"n":6.75,"T":0.96},{"c":1,"n":7,"T":0.99},{"c":1,"n":7.25,"T":1.03},{"c":1,"n":7.5,"T":1.07},{"c":1,"n":7.75,"T":1.1},{"c":1,"n":8,"T":1.14},{"c":1,"n":8.25,"T":1.19},{"c":1,"n":8.5,"T":1.24},{"c":1,"n":8.75,"T":1.29},{"c":1,"n":9,"T":1.34}
]},
"layer":[
{"data":{"name":"grid"},"transform":[{"calculate":"57+340*(datum.c-0.3)+32.33*datum.n","as":"sx"},{"calculate":"320+144.3*(datum.c-0.3)-8.89*datum.n-38.7*datum.T","as":"sy"},{"calculate":"57+340*(datum.c2-0.3)+32.33*datum.n2","as":"sx2"},{"calculate":"320+144.3*(datum.c2-0.3)-8.89*datum.n2-38.7*datum.T2","as":"sy2"}],"mark":{"type":"rule","stroke":"#e4e4e4","strokeWidth":1},"encoding":{"x":{"field":"sx","type":"quantitative","scale":{"domain":[0,627],"range":[0,627],"nice":false,"zero":false},"axis":null},"y":{"field":"sy","type":"quantitative","scale":{"domain":[0,454],"range":[0,454],"nice":false,"zero":false},"axis":null},"x2":{"field":"sx2"},"y2":{"field":"sy2"}}},
{"data":{"name":"box"},"transform":[{"calculate":"57+340*(datum.c-0.3)+32.33*datum.n","as":"sx"},{"calculate":"320+144.3*(datum.c-0.3)-8.89*datum.n-38.7*datum.T","as":"sy"},{"calculate":"57+340*(datum.c2-0.3)+32.33*datum.n2","as":"sx2"},{"calculate":"320+144.3*(datum.c2-0.3)-8.89*datum.n2-38.7*datum.T2","as":"sy2"}],"mark":{"type":"rule","stroke":"#6e6e6e","strokeWidth":1.2},"encoding":{"x":{"field":"sx","type":"quantitative","axis":null},"y":{"field":"sy","type":"quantitative","axis":null},"x2":{"field":"sx2"},"y2":{"field":"sy2"}}},
{"data":{"name":"surface"},"transform":[{"window":[{"op":"lead","field":"T","as":"Tn"},{"op":"lead","field":"n","as":"nn"}],"groupby":["c"],"sort":[{"field":"n"}]},{"window":[{"op":"lead","field":"T","as":"Tc"},{"op":"lead","field":"Tn","as":"Tcn"},{"op":"lead","field":"c","as":"cn"}],"groupby":["n"],"sort":[{"field":"c"}]},{"filter":"isValid(datum.Tcn)&&isValid(datum.cn)&&isValid(datum.nn)"},{"calculate":"datum.c+'_'+datum.n","as":"cell"},{"calculate":"(datum.T+datum.Tn+datum.Tc+datum.Tcn)/4","as":"Tm"},{"calculate":"[0,1,2,3,4]","as":"corner"},{"flatten":["corner"]},{"calculate":"datum.corner==1||datum.corner==2?datum.cn:datum.c","as":"pc"},{"calculate":"datum.corner==2||datum.corner==3?datum.nn:datum.n","as":"pn"},{"calculate":"[datum.T,datum.Tc,datum.Tcn,datum.Tn,datum.T][datum.corner]","as":"pT"},{"calculate":"57+340*(datum.pc-0.3)+32.33*datum.pn","as":"sx"},{"calculate":"320+144.3*(datum.pc-0.3)-8.89*datum.pn-38.7*datum.pT","as":"sy"}],"mark":{"type":"line","filled":true,"stroke":"#05050f","strokeWidth":0.95,"strokeOpacity":0.85},"encoding":{"x":{"field":"sx","type":"quantitative","axis":null},"y":{"field":"sy","type":"quantitative","axis":null},"detail":{"field":"cell"},"order":{"field":"corner"},"color":{"field":"Tm","type":"quantitative","legend":null,"scale":{"domain":[0,5.3],"range":["#3E26A8","#4852F4","#2E87F7","#12B1D6","#37C897","#ABC739","#FEC338","#F9FB14"]}}}},
{"data":{"name":"obs"},"transform":[{"calculate":"57+340*(datum.c-0.3)+32.33*datum.n","as":"sx"},{"calculate":"320+144.3*(datum.c-0.3)-8.89*datum.n-38.7*datum.T","as":"sy"}],"mark":{"type":"circle","size":70,"fill":"#0000f0","opacity":1,"stroke":"white","strokeWidth":0.8,"strokeOpacity":0.6},"encoding":{"x":{"field":"sx","type":"quantitative","axis":null},"y":{"field":"sy","type":"quantitative","axis":null}}},
{"data":{"name":"labels"},"transform":[{"calculate":"57+340*(datum.c-0.3)+32.33*datum.n","as":"sx"},{"calculate":"320+144.3*(datum.c-0.3)-8.89*datum.n-38.7*datum.T+(datum.dy||0)","as":"sy"}],"mark":{"type":"text","fontSize":15.5,"color":"#505050","align":"center","baseline":"middle"},"encoding":{"x":{"field":"sx","type":"quantitative","axis":null},"y":{"field":"sy","type":"quantitative","axis":null},"text":{"field":"label"}}},
{"data":{"name":"titles"},"transform":[{"calculate":"57+340*(datum.c-0.3)+32.33*datum.n","as":"sx"},{"calculate":"320+144.3*(datum.c-0.3)-8.89*datum.n-38.7*datum.T","as":"sy"}],"mark":{"type":"text","fontSize":17,"color":"#505050","align":"center","baseline":"middle"},"encoding":{"x":{"field":"sx","type":"quantitative","axis":null},"y":{"field":"sy","type":"quantitative","axis":null},"text":{"field":"label"}}},
{"data":{"name":"ztitle"},"transform":[{"calculate":"57+340*(datum.c-0.3)+32.33*datum.n","as":"sx"},{"calculate":"320+144.3*(datum.c-0.3)-8.89*datum.n-38.7*datum.T","as":"sy"}],"mark":{"type":"text","fontSize":17,"color":"#505050","align":"center","baseline":"middle","angle":270},"encoding":{"x":{"field":"sx","type":"quantitative","axis":null},"y":{"field":"sy","type":"quantitative","axis":null},"text":{"field":"label"}}},
{"data":{"name":"series"},"transform":[{"filter":"datum.series=='none'"}],"mark":{"type":"point","filled":true,"opacity":1,"size":196},"encoding":{
"fill":{"field":"series","type":"nominal","scale":{"domain":["Surface fit","T vs. CPU_index, n_facets"],"range":["#3368f5","#0000f0"]},"legend":{"title":null,"orient":"none","legendX":392,"legendY":28,"fillColor":"white","strokeColor":"#6e6e6e","padding":4,"labelOffset":41,"labelFontSize":14.5,"labelColor":"#404040","labelFont":"Liberation Sans","labelLimit":400,"rowPadding":3,"symbolSize":196,"symbolOpacity":1,"symbolStrokeWidth":0.8}},
"shape":{"field":"series","type":"nominal","scale":{"domain":["Surface fit","T vs. CPU_index, n_facets"],"range":["M-0.7,-1H6.3V1H-0.7Z","M2.14,0A0.57,0.57,0,1,1,3.28,0A0.57,0.57,0,1,1,2.14,0Z"]}},
"stroke":{"field":"series","type":"nominal","scale":{"domain":["Surface fit","T vs. CPU_index, n_facets"],"range":["#1a2250","#0000f0"]}}}}
]}
